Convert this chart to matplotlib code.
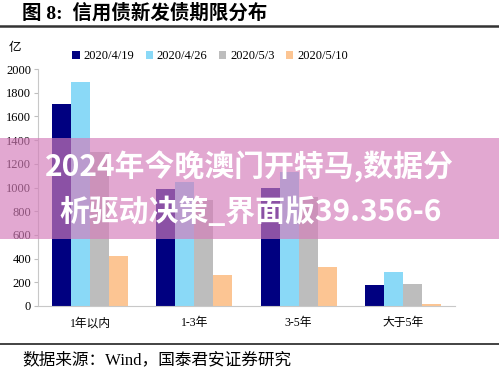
import matplotlib
matplotlib.use('Agg')
from matplotlib import pyplot as plt
from matplotlib.patches import Rectangle
from matplotlib.lines import Line2D
import numpy as np

plt.rcParams['font.family'] = ['Liberation Serif', 'Noto Sans CJK SC']

# 数据
categories = ['1年以内', '1-3年', '3-5年', '大于5年']
series_names = ['2020/4/19', '2020/4/26', '2020/5/3', '2020/5/10']
v_0419 = [1705, 985, 1000, 175]
v_0426 = [1893, 1050, 1130, 287]
v_0503 = [1297, 895, 920, 186]
v_0510 = [422, 262, 327, 20]
colors = ['#000080', '#8ad9f7', '#bdbdbd', '#fcc593']

W, H = 499, 378
fig = plt.figure(figsize=(W / 100, H / 100), dpi=100)

ax = fig.add_axes([38 / W, 1 - 306 / H, 417 / W, 237 / H])
x = np.arange(len(categories))
bw = 0.182
for i, vals in enumerate([v_0419, v_0426, v_0503, v_0510]):
    ax.bar(x + (i - 1.5) * bw, vals, bw, color=colors[i], label=series_names[i])

ax.set_xlim(-0.5, 3.5)
ax.set_ylim(0, 2000)
ax.set_yticks(range(0, 2001, 200))
ax.tick_params(axis='y', labelsize=9, length=3, color='#bfbfbf', pad=2)
ax.tick_params(axis='x', labelsize=8.5, length=0, pad=8)
ax.set_xticks(x)
ax.set_xticklabels(categories)
for s in ['top', 'right']:
    ax.spines[s].set_visible(False)
for s in ['left', 'bottom']:
    ax.spines[s].set_color('#c8c8c8')

fig.text(15 / W, 1 - 48 / H, '亿', fontsize=9, ha='center', va='center')
fig.legend(loc='center', bbox_to_anchor=(210 / W, 1 - 56 / H), ncol=4,
           frameon=False, fontsize=9, handlelength=0.6, handleheight=0.6,
           handletextpad=0.3, columnspacing=0.9)

# 标题和来源
fig.text(22 / W, 1 - 13 / H, '图 8:  信用债新发债期限分布', fontsize=14,
         fontweight='bold', ha='left', va='center')
fig.add_artist(Line2D([0, 1], [1 - 26 / H, 1 - 26 / H], color='#333333', lw=1.8))
fig.add_artist(Line2D([0, 1], [1 - 344 / H, 1 - 344 / H], color='#222222', lw=1.2))
fig.text(22 / W, 1 - 360 / H, '数据来源：Wind，国泰君安证券研究', fontsize=12,
         ha='left', va='center')

# 水印条
fig.add_artist(Rectangle((0, 1 - 239 / H), 1, 101 / H, transform=fig.transFigure,
                         color=(212 / 255, 124 / 255, 185 / 255), alpha=0.66, lw=0))
fig.text(249 / W, 1 - 167 / H, '2024年今晚澳门开特马,数据分', fontsize=21.5,
         fontweight='heavy', color='white', ha='center', va='center',
         family=['Noto Sans CJK SC', 'DejaVu Sans'])
fig.text(251 / W, 1 - 212 / H, '析驱动决策_界面版39.356-6', fontsize=21.5,
         fontweight='heavy', color='white', ha='center', va='center',
         family=['Noto Sans CJK SC', 'DejaVu Sans'])

fig.savefig('out.png', dpi=100)
